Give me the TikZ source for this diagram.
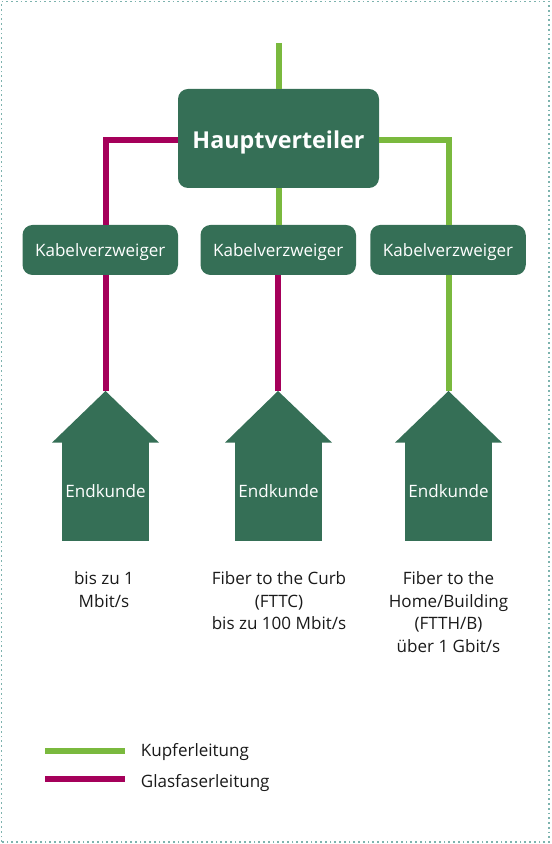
\documentclass[tikz,border=0pt]{standalone}
\usepackage{fontspec}
\setmainfont{Open Sans}
\usetikzlibrary{calc,positioning}
\definecolor{boxgreen}{HTML}{356F56}
\definecolor{kupfer}{HTML}{7AB93E}
\definecolor{glasfaser}{HTML}{A5005A}
\definecolor{framedots}{HTML}{7DB3AE}
\definecolor{ink}{HTML}{1A1A1A}

\begin{document}
\begin{tikzpicture}[
  font=\fontsize{9.7}{13}\selectfont,
  verteiler/.style={
    fill=boxgreen,
    text=white,
    rounded corners=2mm,
    align=center,
    inner sep=0pt
  },
  hauptbox/.style={
    verteiler,
    minimum width=40.2mm,
    minimum height=19.8mm,
    text height=11pt,
    text depth=0pt,
    font=\fontsize{13.25}{15}\selectfont\bfseries
  },
  kabelbox/.style={
    verteiler,
    minimum width=31.1mm,
    minimum height=10mm,
    text depth=0pt
  },
  hausbody/.style={
    fill=boxgreen,
    text=white,
    inner sep=0pt,
    minimum width=17.4mm,
    minimum height=19.8mm
  },
  roof/.style={fill=boxgreen},
  copperline/.style={draw=kupfer,line width=1.2mm},
  fibreline/.style={draw=glasfaser,line width=1.2mm},
  note/.style={align=center,text=ink,inner sep=0pt,anchor=north},
  legendtext/.style={text=ink,inner sep=0pt,anchor=base west}
]
\useasboundingbox (0,0) rectangle (11.02,16.88);

% Dotted outer frame
\draw[framedots,line width=0.35mm,dash pattern=on 0.35mm off 0.6mm] (0.03,0.04) rectangle (10.98,16.85);

% Central office and street cabinets
\node[hauptbox] (haupt) at (5.57,14.11) {Hauptverteiler};
\node[kabelbox] (kabel1) at (2.005,11.88) {Kabelverzweiger};
\node[kabelbox] (kabel2) at (5.565,11.88) {Kabelverzweiger};
\node[kabelbox] (kabel3) at (8.96,11.88) {Kabelverzweiger};

% House bodies, the roofs follow after the lines
\node[hausbody] (kunde1) at (2.11,7.05) {Endkunde};
\node[hausbody] (kunde2) at (5.57,7.05) {Endkunde};
\node[hausbody] (kunde3) at (8.97,7.05) {Endkunde};
\coordinate (apex1) at (2.11,9.06);
\coordinate (apex2) at (5.56,9.06);
\coordinate (apex3) at (8.97,9.06);
\coordinate (feed) at (5.57,16.02);

% Lines run underneath the roofs
\draw[copperline] (feed) -- (haupt.north);
\draw[copperline] (haupt.south) -- (haupt.south |- kabel2.north);
\draw[fibreline] ([yshift=-0.3mm]haupt.west) -| (apex1 |- kabel1.north);
\draw[copperline] ([yshift=-0.3mm]haupt.east) -| (apex3 |- kabel3.north);
\draw[fibreline] (apex1 |- kabel1.south) -- (apex1);
\draw[fibreline] (apex2 |- kabel2.south) -- (apex2);
\draw[copperline] (apex3 |- kabel3.south) -- (apex3);

\foreach \n in {1,2,3} {
  \fill[roof] (apex\n) -- ($(kunde\n.north)+(1.07,-0.02)$) -- ($(kunde\n.north)+(-1.07,-0.02)$) -- cycle;
}

% Speeds below the houses
\node[note] (speed1) at (2.08,5.46) {bis zu 1\\Mbit/s};
\node[note] (speed2) at (5.58,5.46) {Fiber to the Curb\\(FTTC)\\bis zu 100 Mbit/s};
\node[note] (speed3) at (8.97,5.46) {Fiber to the\\Home/Building\\(FTTH/B)\\über 1 Gbit/s};

% Legend
\coordinate (kupferA) at (0.9,1.86);
\coordinate (kupferB) at (2.5,1.86);
\coordinate (glasA) at (0.9,1.3);
\coordinate (glasB) at (2.5,1.3);
\draw[copperline] (kupferA) -- (kupferB);
\draw[fibreline] (glasA) -- (glasB);
\node[legendtext] (kupferlabel) at (2.81,1.74) {Kupferleitung};
\node[legendtext] (glaslabel) at (2.81,1.13) {Glasfaserleitung};
\end{tikzpicture}
\end{document}
